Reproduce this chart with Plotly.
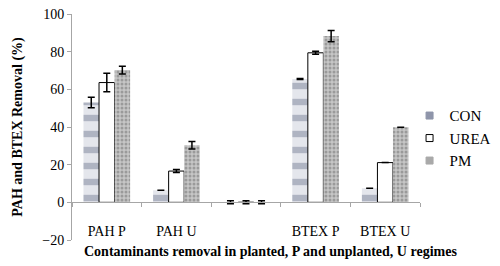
import plotly.graph_objects as go

categories = ["PAH P", "PAH U", " ", "BTEX P", "BTEX U"]
con = [53.0, 6.4, 0.0, 65.5, 7.5]
con_err = [2.8, 0.0, 0.8, 0.3, 0.0]
urea = [63.6, 16.6, 0.0, 79.4, 21.1]
urea_err = [4.9, 0.8, 0.8, 0.8, 0.0]
pm = [70.2, 30.3, 0.0, 88.3, 39.9]
pm_err = [2.0, 2.0, 0.8, 3.0, 0.0]
y_ticks = [-20, 0, 20, 40, 60, 80, 100]
series_names = ["CON", "UREA", "PM"]

FONT = "Liberation Serif"

def err(vals):
    return dict(type="data", array=vals, visible=True, color="black", thickness=1.5, width=3.5)

fig = go.Figure()
fig.add_trace(go.Bar(
    name="CON", x=categories, y=con, error_y=err(con_err), showlegend=False,
    marker=dict(color="#c9ccd8", line=dict(width=0),
                pattern=dict(shape="-", fgcolor="#7a8198", bgcolor="#e4e6ec", size=16, solidity=0.4)),
))
fig.add_trace(go.Bar(
    name="UREA", x=categories, y=urea, error_y=err(urea_err), showlegend=False,
    marker=dict(color="white", line=dict(color="black", width=1)),
))
fig.add_trace(go.Bar(
    name="PM", x=categories, y=pm, error_y=err(pm_err), showlegend=False,
    marker=dict(color="#b8b8b8", line=dict(width=0),
                pattern=dict(shape=".", fgcolor="#6e6e6e", bgcolor="#c6c6c6", size=4, solidity=0.45)),
))

# small square legend keys, like the reference
legend_fill = ["#8f95aa", "white", "#a9a9a9"]
legend_line = ["#8f95aa", "black", "#a9a9a9"]
for name, fc, lc in zip(series_names, legend_fill, legend_line):
    fig.add_trace(go.Scatter(
        name=name, x=[None], y=[None], mode="markers",
        marker=dict(symbol="square", size=7, color=fc, line=dict(color=lc, width=1)),
    ))

# page body has an 8px default margin, so the figure is 8px smaller and offset
fig.update_layout(
    width=492, height=258,
    margin=dict(l=64, r=80, t=6, b=26, autoexpand=False),
    paper_bgcolor="white", plot_bgcolor="white",
    barmode="group", bargap=0.33, bargroupgap=0,
    font=dict(family=FONT, size=13, color="black"),
    showlegend=True,
    legend=dict(x=0.97, y=0.45, xanchor="left", yanchor="middle",
                font=dict(family=FONT, size=15, color="black"),
                tracegroupgap=8, itemwidth=30, bgcolor="rgba(0,0,0,0)"),
    xaxis=dict(
        type="category", anchor="free", position=1/6, automargin=False,
        showline=True, linecolor="#a6a6a6", linewidth=1,
        ticks="outside", tickson="boundaries", ticklen=4, tickcolor="#a6a6a6",
        ticklabelstandoff=16,
        tickfont=dict(family=FONT, size=14, color="black"),
        showgrid=False, zeroline=False,
    ),
    yaxis=dict(
        range=[-20, 100], tickvals=y_ticks, domain=[0, 1], automargin=False,
        showline=True, linecolor="#a6a6a6", linewidth=1,
        ticks="outside", ticklen=4, tickcolor="#a6a6a6", ticklabeloverflow="allow",
        tickfont=dict(family=FONT, size=14, color="black"),
        showgrid=False, zeroline=False,
        title=dict(text="<b>PAH and BTEX Removal (%)</b>", font=dict(family=FONT, size=14, color="black"), standoff=16),
    ),
    annotations=[dict(
        text="<b>Contaminants removal in planted, P and unplanted, U regimes</b>",
        xref="paper", yref="paper", x=0.57, y=-0.05, xanchor="center", yanchor="middle",
        showarrow=False, font=dict(family=FONT, size=14, color="black"),
    )],
)

fig.write_html("out.html")
